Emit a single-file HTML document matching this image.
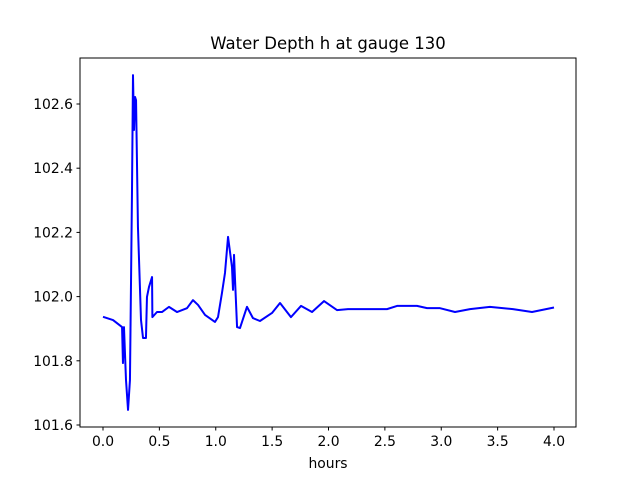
<!DOCTYPE html>
<html><head><meta charset="utf-8"><style>
body{margin:0;background:#fff;}
svg{display:block;font-family:"DejaVu Sans","Liberation Sans",sans-serif;}
</style></head><body>
<svg id="chart" width="640" height="480" viewBox="0 0 640 480" xmlns="http://www.w3.org/2000/svg">
<rect width="640" height="480" fill="#fff"/>
<text x="328" y="49" text-anchor="middle" font-size="16.5">Water Depth h at gauge 130</text>
<g id="xticks"></g>
<g id="yticks"></g>
<polyline id="series" fill="none" stroke="#0000ff" stroke-width="2" stroke-linejoin="round"/>
<rect x="80" y="58" width="496" height="369" fill="none" stroke="#000" stroke-width="1"/>
<text x="328" y="468" text-anchor="middle" font-size="13.9">hours</text>
</svg>
<script>
const hours=[0,0.089,0.169,0.177,0.186,0.204,0.222,0.239,0.257,0.266,0.275,0.284,0.293,0.31,0.337,0.355,0.381,0.39,0.408,0.435,0.438,0.479,0.523,0.585,0.656,0.745,0.798,0.843,0.905,0.993,1.02,1.055,1.082,1.109,1.144,1.153,1.162,1.171,1.189,1.215,1.277,1.33,1.392,1.499,1.57,1.667,1.756,1.854,1.96,2.075,2.173,2.519,2.608,2.785,2.874,2.989,3.122,3.255,3.432,3.636,3.805,4.0];
const depth=[101.937,101.927,101.905,101.793,101.905,101.74,101.647,101.74,102.323,102.69,102.519,102.622,102.612,102.217,101.927,101.871,101.871,101.999,102.03,102.061,101.936,101.952,101.952,101.968,101.952,101.964,101.989,101.974,101.943,101.921,101.936,102.011,102.074,102.186,102.092,102.021,102.13,102.052,101.905,101.902,101.968,101.933,101.924,101.949,101.98,101.936,101.971,101.952,101.986,101.958,101.961,101.961,101.971,101.971,101.964,101.964,101.952,101.961,101.968,101.961,101.952,101.966];
const xTickLabels=["0.0","0.5","1.0","1.5","2.0","2.5","3.0","3.5","4.0"];
const yTickLabels=["101.6","101.8","102.0","102.2","102.4","102.6"];
const NS="http://www.w3.org/2000/svg";
function xs(v){return 103+v*112.75;}
function ys(v){return 425-(v-101.6)*321;}
const pts=hours.map((h,i)=>xs(h).toFixed(2)+","+ys(depth[i]).toFixed(2)).join(" ");
document.getElementById("series").setAttribute("points",pts);
const xg=document.getElementById("xticks");
xTickLabels.forEach(l=>{
  const x=xs(parseFloat(l));
  const t=document.createElementNS(NS,"line");
  
  
  t.setAttribute("x1",x);t.setAttribute("x2",x);t.setAttribute("y1",427);t.setAttribute("y2",430.5);t.setAttribute("stroke","#000");
  xg.appendChild(t);
  const tx=document.createElementNS(NS,"text");
  
  
  tx.setAttribute("x",x);tx.setAttribute("y",446);tx.setAttribute("text-anchor","middle");tx.setAttribute("font-size","13.9");
  tx.textContent=l;xg.appendChild(tx);
});
const yg=document.getElementById("yticks");
yTickLabels.forEach(l=>{
  const y=ys(parseFloat(l));
  const t=document.createElementNS(NS,"line");
  
  
  t.setAttribute("x1",76.5);t.setAttribute("x2",80);t.setAttribute("y1",y);t.setAttribute("y2",y);t.setAttribute("stroke","#000");
  yg.appendChild(t);
  const tx=document.createElementNS(NS,"text");
  
  
  tx.setAttribute("x",73);tx.setAttribute("y",y+5);tx.setAttribute("text-anchor","end");tx.setAttribute("font-size","13.9");
  tx.textContent=l;yg.appendChild(tx);
});
</script>
</body></html>
